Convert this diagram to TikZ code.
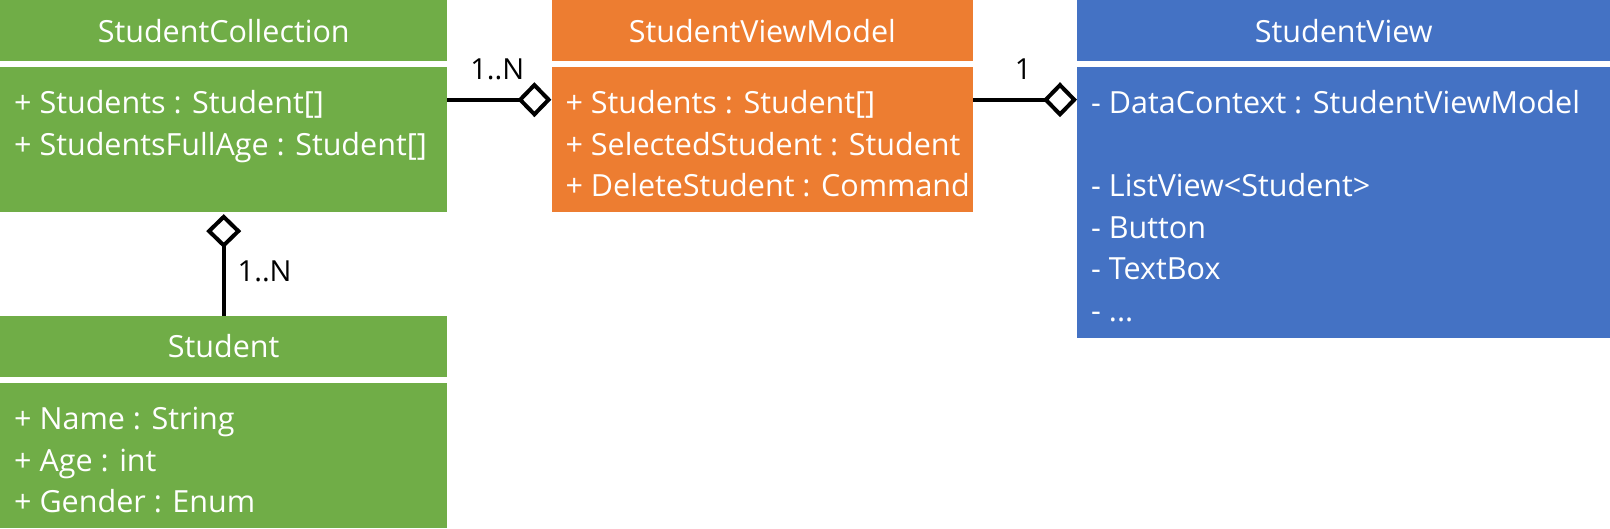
\documentclass[tikz,border=0pt]{standalone}
\usepackage{fontspec}
\setmainfont{Open Sans}
\usetikzlibrary{arrows.meta,positioning}
\definecolor{umlgreen}{HTML}{70AD47}
\definecolor{umlorange}{HTML}{ED7D31}
\definecolor{umlblue}{HTML}{4472C4}

\begin{document}
\begin{tikzpicture}[
    x=1pt, y=-1pt,
    head/.style={anchor=north west, inner sep=0pt, text=white, font=\fontsize{30.5}{41.5}\selectfont},
    body/.style={anchor=north west, inner sep=0pt},
    attrs/.style={anchor=north west, inner sep=0pt, align=left, text=white, font=\fontsize{30.5}{41.5}\selectfont, xshift=14pt, yshift=-18pt},
    aggr/.style={-{Diamond[open, length=34pt, width=35pt]}, line width=4pt},
    mult/.style={inner sep=0pt, font=\fontsize{29}{34}\selectfont}
]
\useasboundingbox (0,0) rectangle (1610,528);

% Model side
\node[head, fill=umlgreen, minimum width=447pt, minimum height=61pt] (schead) at (0,0) {StudentCollection};
\node[body, fill=umlgreen, minimum width=447pt, minimum height=145pt,
      label={[attrs]north west:{\strut+ Students : Student[]\\+ StudentsFullAge : Student[]}}] (scbody) at (0,66.7) {};

\node[head, fill=umlgreen, minimum width=447pt, minimum height=60.7pt] (stuhead) at (0,316) {Student};
\node[body, fill=umlgreen, minimum width=447pt, minimum height=145.3pt,
      label={[attrs]north west:{\strut+ Name : String\\+ Age : int\\+ Gender : Enum}}] (stubody) at (0,382.7) {};

% ViewModel
\node[head, fill=umlorange, minimum width=421.5pt, minimum height=61pt] (svmhead) at (551.4,0) {StudentViewModel};
\node[body, fill=umlorange, minimum width=421.5pt, minimum height=145pt,
      label={[attrs]north west:{\strut+ Students : Student[]\\+ SelectedStudent : Student\\+ DeleteStudent : Command}}] (svmbody) at (551.4,66.7) {};

% View
\node[head, fill=umlblue, minimum width=533pt, minimum height=61pt] (svhead) at (1077,0) {StudentView};
\node[body, fill=umlblue, minimum width=533pt, minimum height=271.3pt,
      label={[attrs]north west:{\strut- DataContext : StudentViewModel\\[41.5pt]- ListView<Student>\\- Button\\- TextBox\\- ...}}] (svbody) at (1077,66.7) {};

% Aggregations
\draw[aggr] ([yshift=-33pt]scbody.north east) -- node[mult, pos=0.48, above=18pt] {1..N} ([yshift=-33pt]svmbody.north west);
\draw[aggr] ([yshift=-33pt]svmbody.north east) -- node[mult, pos=0.48, above=18pt] {1} ([yshift=-33pt]svbody.north west);
\draw[aggr, shorten >=2pt] (stuhead.north) -- node[mult, pos=0.43, right=12pt] {1..N} (scbody.south);

\end{tikzpicture}
\end{document}
